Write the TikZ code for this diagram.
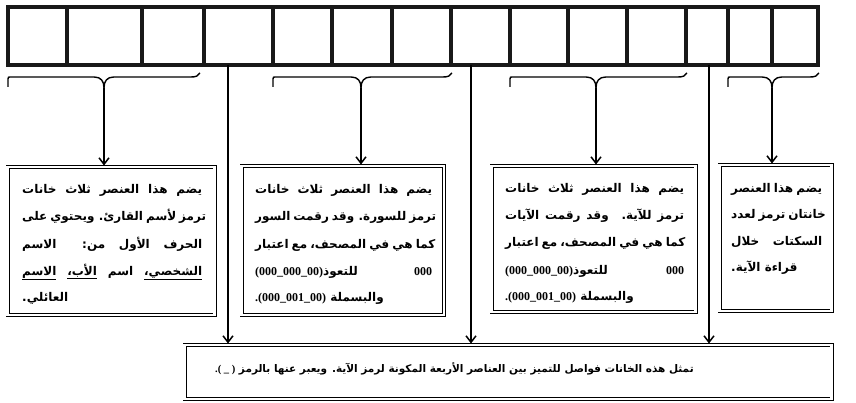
\documentclass[tikz,border=0pt]{standalone}
\usepackage{fontspec}
\TeXXeTstate=1
\newfontfamily\arab[Script=Arabic]{DejaVu Sans}
\newfontfamily\lat{Liberation Serif}
\usetikzlibrary{arrows.meta}
\newcommand\jl[2]{\hbox to #1pt{\spaceskip=.25em plus 1fil\relax #2}}
\newcommand\nm[1]{\beginL{\lat\bfseries #1}\endL}
\newcommand\mybrace[4]{%
  \draw[bracestyle] (#2,87) -- (#2,79) .. controls (#2,77) .. (#2+4,77) -- (#3-10,77)
    .. controls (#3-3,77) and (#3,81) .. (#3,88)
    .. controls (#3,81) and (#3+3,77) .. (#3+10,77) -- (#4-8,77)
    .. controls (#4-3,77) and (#4-1,76) .. (#4+1,73);
  \coordinate (#1) at (#3,88);}
\begin{document}
\begin{tikzpicture}[x=1pt,y=-1pt,
  cell/.style={draw=black!90, line width=3.3pt, inner sep=0pt, outer sep=0pt, minimum height=58pt},
  frame/.style={draw, double, line width=0.9pt, double distance=2.2pt, inner sep=0pt, outer sep=0pt, anchor=north west},
  conn/.style={line width=1.3pt, shorten >=1.5pt, -{Straight Barb[length=6.5pt,width=10pt,line width=1.5pt]}},
  bracestyle/.style={line width=1.4pt},
  txt/.style={font=\arab\bfseries\fontsize{12}{14}\selectfont, inner sep=0pt, anchor=base west},
]
\useasboundingbox (0,0) rectangle (856,403);
\fill[white] (0,0) rectangle (856,403);

% top bar of cells
\foreach \i/\a/\b in {1/8/67,2/67/142,3/142/204,4/204/273,5/273/332,6/332/392,7/392/451,8/451/510,9/510/568,10/568/627,11/627/686,12/686/728,13/728/772,14/772/818}
  \node[cell, minimum width={\b-\a}] (c\i) at ({(\a+\b)/2},36) {};

% braces
\mybrace{b1}{8}{104}{199}
\mybrace{b2}{273}{361}{451}
\mybrace{b3}{510}{596}{686}
\mybrace{b4}{728}{772}{818}

% boxes
\node[frame, minimum width=207, minimum height=148] (box1) at (7.5,167) {};
\node[frame, minimum width=202.5, minimum height=149] (box2) at (241.5,166) {};
\node[frame, minimum width=204, minimum height=146] (box3) at (491.5,166) {};
\node[frame, minimum width=112, minimum height=146] (box4) at (719.5,165) {};
\node[frame, minimum width=647, minimum height=54] (bottom) at (184.5,345) {};

% connectors
\draw[conn] (b1) -- (b1 |- box1.north);
\draw[conn] (b2) -- (b2 |- box2.north);
\draw[conn] (b3) -- (b3 |- box3.north);
\draw[conn] (b4) -- (b4 |- box4.north);
\coordinate (s1) at (228,65);
\coordinate (s2) at (471,65);
\coordinate (s3) at (709,65);
\draw[conn] (s1) -- (s1 |- bottom.north);
\draw[conn] (s2) -- (s2 |- bottom.north);
\draw[conn] (s3) -- (s3 |- bottom.north);

% box 1 text
\node[txt] (t11) at (22,194) {\jl{180}{\beginR يضم هذا العنصر ثلاث خانات\endR}};
\node[txt] (t12) at (22,221) {\jl{180}{\beginR ترمز لأسم القارئ. ويحتوي على\endR}};
\node[txt] (t13) at (22,248) {\jl{180}{\beginR الحرف الأول من: الاسم\endR}};
\node[txt] (t14) at (22,275) {\jl{180}{\beginR \underline{الشخصي،} اسم \underline{الأب،} \underline{الاسم}\endR}};
\node[txt] (t15) at (22,301) {\beginR العائلي.\endR};

% box 2 text
\node[txt] (t21) at (255,194) {\jl{177}{\beginR يضم هذا العنصر ثلاث خانات\endR}};
\node[txt] (t22) at (255,221) {\jl{177}{\beginR ترمز للسورة. وقد رقمت السور\endR}};
\node[txt] (t23) at (255,248) {\jl{177}{\beginR كما هي في المصحف، مع اعتبار\endR}};
\node[txt] (t24) at (255,275) {\jl{177}{\beginR\nm{000} للتعوذ\nm{(000\_000\_00)}\endR}};
\node[txt] (t25) at (255,301) {\beginR والبسملة \nm{.(000\_001\_00)}\endR};

% box 3 text
\node[txt] (t31) at (505,193) {\jl{179}{\beginR يضم هذا العنصر ثلاث خانات\endR}};
\node[txt] (t32) at (505,220) {\jl{179}{\beginR ترمز للآية. وقد رقمت الآيات\endR}};
\node[txt] (t33) at (505,247) {\jl{179}{\beginR كما هي في المصحف، مع اعتبار\endR}};
\node[txt] (t34) at (505,274) {\jl{179}{\beginR\nm{000} للتعوذ\nm{(000\_000\_00)}\endR}};
\node[txt] (t35) at (505,300) {\beginR والبسملة \nm{.(000\_001\_00)}\endR};

% box 4 text
\node[txt] (t41) at (731,193) {\jl{91}{\beginR يضم هذا العنصر\endR}};
\node[txt] (t42) at (731,219) {\jl{91}{\beginR خانتان ترمز لعدد\endR}};
\node[txt] (t43) at (731,246) {\jl{91}{\beginR السكتات خلال\endR}};
\node[txt] (t44) at (731,271) {\beginR قراءة الآية.\endR};

% bottom box text
\node[txt, font=\arab\bfseries\fontsize{10.5}{13}\selectfont] (t51) at (215,372) {\beginR تمثل هذه الخانات فواصل للتميز بين العناصر الأربعة المكونة لرمز الآية. ويعبر عنها بالرمز \nm{.( \_ )}\endR};
\end{tikzpicture}
\end{document}
